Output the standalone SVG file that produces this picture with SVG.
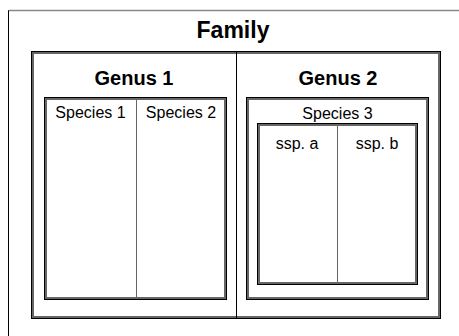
<svg xmlns="http://www.w3.org/2000/svg" width="459" height="336" viewBox="0 0 459 336">
<style>
text{font-family:"Liberation Sans",Arial,sans-serif;fill:#000;text-anchor:middle}
.t1{font-size:23px;font-weight:bold}
.t2{font-size:20px;font-weight:bold}
.t3{font-size:16px}
.fo{fill:none;stroke:#666;stroke-width:3}
.fi{fill:none;stroke:#000;stroke-width:1}
.div{stroke:#666;stroke-width:1}
</style>
<rect width="459" height="336" fill="#fff"/>
<g id="family">
<path d="M8.5,336 V10.5 H459" fill="none" stroke="#000" stroke-width="1"/>
<path d="M9,10.5 H459" fill="none" stroke="#888" stroke-width="1.5"/>
<text class="t1" x="233" y="38">Family</text>
<rect class="fo" x="32.5" y="52.5" width="407" height="265"/>
<rect class="fi" x="31.5" y="51.5" width="409" height="267"/>
</g>
<g id="genus1">
<text class="t2" x="134" y="85">Genus 1</text>
<rect class="fo" x="45.5" y="98.5" width="180" height="200"/>
<rect class="fi" x="44.5" y="97.5" width="182" height="202"/>
</g>
<g id="species1">
<text class="t3" x="90.5" y="118">Species 1</text>
</g>
<g id="species2">
<line class="div" x1="136.5" y1="98" x2="136.5" y2="298"/>
<text class="t3" x="181" y="118">Species 2</text>
</g>
<g id="genus2">
<line x1="236.5" y1="52" x2="236.5" y2="318" stroke="#000" stroke-width="1"/>
<text class="t2" x="338" y="85">Genus 2</text>
</g>
<g id="species3">
<rect class="fo" x="247.5" y="98.5" width="180" height="200"/>
<rect class="fi" x="246.5" y="97.5" width="182" height="202"/>
<text class="t3" x="337.5" y="119">Species 3</text>
<rect class="fo" x="258.5" y="124.5" width="158" height="159"/>
<rect class="fi" x="257.5" y="123.5" width="160" height="161"/>
</g>
<g id="sspa">
<text class="t3" x="297" y="149">ssp. a</text>
</g>
<g id="sspb">
<line class="div" x1="337.5" y1="125" x2="337.5" y2="283"/>
<text class="t3" x="377" y="149">ssp. b</text>
</g>
<g id="connectors"/>
</svg>
